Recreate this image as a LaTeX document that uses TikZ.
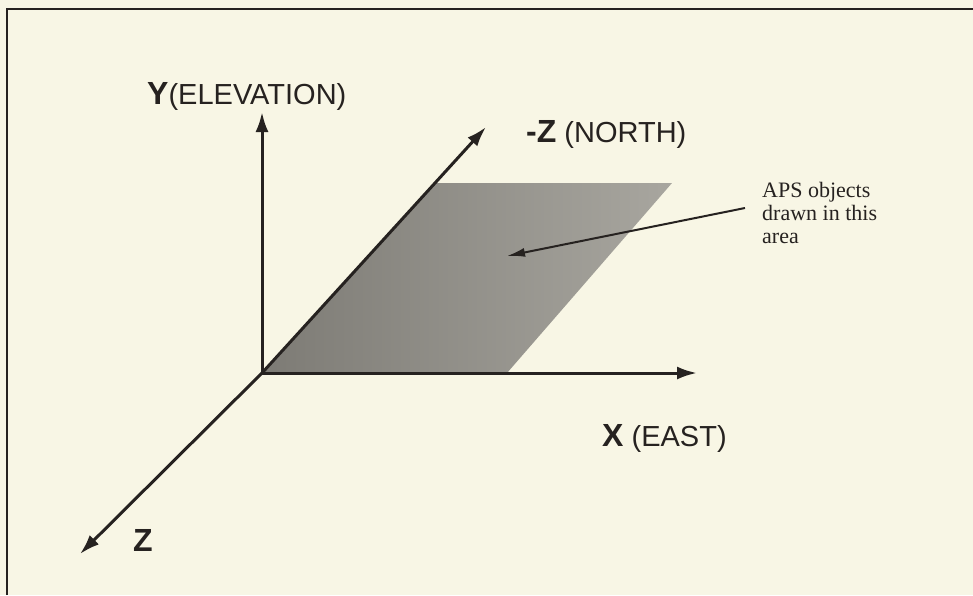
\documentclass[tikz,border=0pt]{standalone}
\usepackage{fontspec}
\setmainfont{Liberation Serif}
\setsansfont{Liberation Sans}
\usetikzlibrary{arrows.meta}

\definecolor{paper}{RGB}{248,246,229}
\definecolor{ink}{RGB}{38,34,32}
\definecolor{halfdark}{RGB}{125,123,117}
\definecolor{halflight}{RGB}{168,166,159}

\tikzset{
  axis/.style={ink, line width=3pt, -{Latex[length=20pt,width=13pt]}},
  pointer/.style={ink, line width=2pt, -{Latex[length=18pt,width=9pt]}},
  axlabel/.style={ink, inner sep=0pt, anchor=west, font=\sffamily\fontsize{29}{32}\selectfont},
  note/.style={ink, inner sep=0pt, anchor=west, align=left, font=\rmfamily\fontsize{22}{23}\selectfont}
}
\newcommand{\axbold}[1]{{\fontsize{32}{34}\selectfont\bfseries #1}}

\begin{document}
\begin{tikzpicture}[x=1pt, y=-1pt]
    % 1. Page and frame
    \useasboundingbox (0,0) rectangle (973,595);
    \fill[paper] (0,0) rectangle (973,595);
    \draw[ink, line width=2.5pt] (7,595) -- (7,9) -- (973,9);

    % 2. Shaded drawing area
    \shade[shading angle=60, left color=halfdark, right color=halflight]
        (262,373) -- (507,373) -- (672,183) -- (435,183) -- cycle;

    % 3. Axes
    \coordinate (O) at (262,373);
    \coordinate (ytip) at (262,112);
    \coordinate (xtip) at (697,373);
    \coordinate (ntip) at (486,127);
    \coordinate (ztip) at (80,554);
    \draw[axis] (O) -- (ytip);
    \draw[axis] (O) -- (xtip);
    \draw[axis] (O) -- (ntip);
    \draw[axis] (O) -- (ztip);

    % 4. Axis labels
    \node[axlabel] (ylab) at (147,96) {\axbold{Y}(ELEVATION)};
    \node[axlabel] (nlab) at (526,134) {\axbold{-Z} (NORTH)};
    \node[axlabel] (xlab) at (602,438) {\axbold{X} (EAST)};
    \node[axlabel, anchor=center] (zlab) at (143,540) {\axbold{Z}};

    % 5. Note with pointer
    \node[note] (aps) at (762,213) {APS objects\\drawn in this\\area};
    \coordinate (ptrstart) at (745,208);
    \coordinate (ptrend) at (507,256);
    \draw[pointer] (ptrstart) -- (ptrend);
\end{tikzpicture}
\end{document}
